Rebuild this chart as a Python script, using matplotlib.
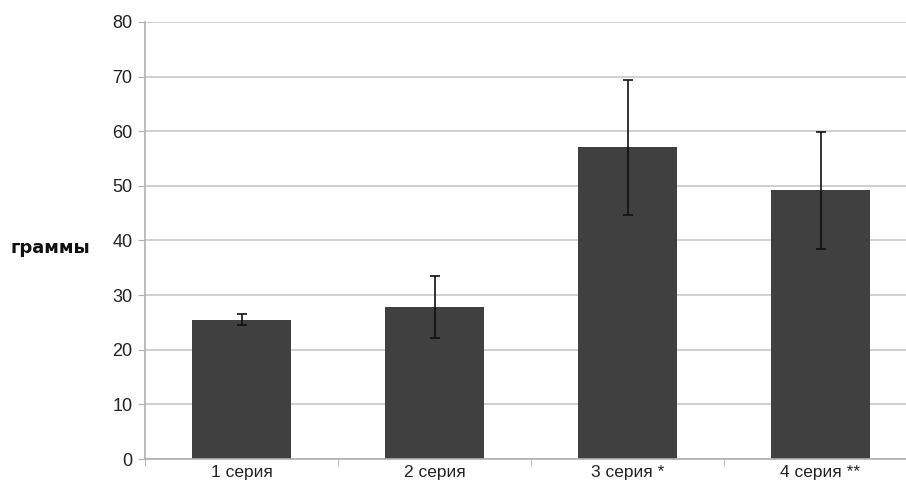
import numpy as np
import matplotlib.pyplot as plt

plt.rcParams['font.family'] = ['Liberation Sans', 'DejaVu Sans']

# data
categories = ['1 серия', '2 серия', '3 серия *', '4 серия **']
means = [25.5, 27.9, 57.1, 49.2]
err_low = [24.5, 22.2, 44.7, 38.4]
err_high = [26.5, 33.5, 69.4, 59.9]
yticks = [0, 10, 20, 30, 40, 50, 60, 70, 80]

means = np.array(means)
yerr = [means - np.array(err_low), np.array(err_high) - means]

fig = plt.figure(figsize=(9.06, 4.91), dpi=100)
ax = fig.add_axes([145/906, 32/491, 772/906, 437/491])

x = np.arange(len(categories))
ax.bar(x, means, width=0.51, color='#404040', zorder=2)
ax.errorbar(x, means, yerr=yerr, fmt='none', ecolor='#111111',
            elinewidth=1.2, capsize=3.5, capthick=1.2, zorder=3)

ax.set_xlim(-0.5, len(categories) - 0.5)
ax.set_ylim(0, 80)
ax.set_yticks(yticks)
ax.tick_params(axis='y', length=5, color='#b0b0b0', labelsize=13,
               labelcolor='#222222', pad=4)

# category labels in the middle, tick marks on the boundaries
ax.set_xticks(x)
ax.set_xticklabels(categories, fontsize=12.5, color='#222222')
ax.tick_params(axis='x', length=0, pad=4)
ax.set_xticks(np.arange(-0.5, len(categories)), minor=True)
ax.tick_params(axis='x', which='minor', length=5, color='#b0b0b0')

ax.yaxis.grid(True, color='#c8c8c8', linewidth=1.2, zorder=0)
ax.set_axisbelow(True)
for s in ['top', 'right']:
    ax.spines[s].set_visible(False)
ax.spines['left'].set_color('#b0b0b0')
ax.spines['bottom'].set_color('#b0b0b0')
ax.spines['left'].set_linewidth(1.2)
ax.spines['bottom'].set_linewidth(1.2)

fig.text(11/906, 1 - 248/491, 'граммы', fontsize=13, fontweight='bold',
         family='DejaVu Sans', va='center', ha='left', color='#111111')

fig.savefig('out.png', dpi=100)
